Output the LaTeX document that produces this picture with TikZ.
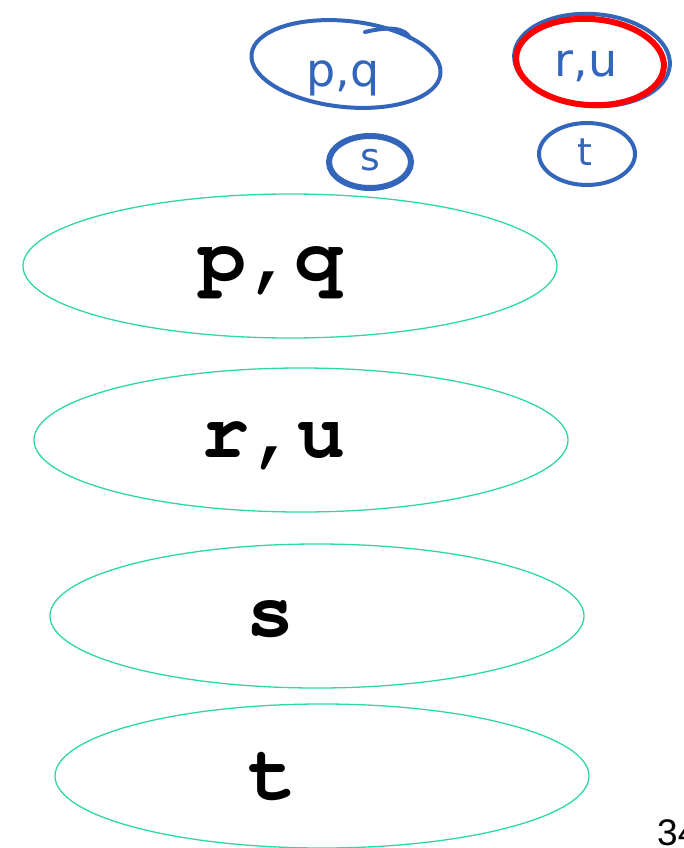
\documentclass[tikz,border=0pt]{standalone}
\usepackage{fontspec}
\setmainfont{Liberation Sans}
\newfontfamily\handfont{DejaVu Sans}
\newcommand{\courbold}{\fontencoding{T1}\fontfamily{pcr}\fontseries{b}\fontshape{n}\selectfont}
\definecolor{teal1}{HTML}{2ED8A4}
\definecolor{inkblue}{HTML}{3366BB}
\definecolor{inkred}{HTML}{FF0000}
\usetikzlibrary{shapes.geometric}
\tikzset{
  setbox/.style={draw=teal1, line width=1.3pt, ellipse, minimum width=534, minimum height=144, inner sep=0pt},
  settext/.style={font=\courbold\fontsize{80}{80}\selectfont},
  ink/.style={draw=inkblue, line width=4pt, line cap=round},
  inktext/.style={text=inkblue, font=\handfont\fontsize{46}{46}\selectfont}
}
\begin{document}
\begin{tikzpicture}[x=1pt,y=-1pt]
\useasboundingbox (0,0) rectangle (683,848);
\clip (0,0) rectangle (683,848);
\fill[white] (0,0) rectangle (683,848);
% main sets
\node[setbox] (e1) at (290,266) {};
\node[setbox] (e2) at (301,440) {};
\node[setbox] (e3) at (317,616) {};
\node[setbox] (e4) at (322,776) {};
\node[settext] (t1) at (270,270) {p,q};
\node[settext] (t2) at (273,444) {r,u};
\node[settext] (t3) at (270,619) {s};
\node[settext] (t4) at (272,778) {t};
% handwritten annotations
\draw[ink, rotate around={-6:(346,64)}] (346,64) ellipse [x radius=95, y radius=43];
\draw[ink] (365,32) .. controls (390,26) and (405,28) .. (410,38);
\node[inktext] (h1) at (343,78) {p,q};
\draw[ink, line width=6pt] (370,162) ellipse [x radius=41, y radius=26];
\node[inktext, font=\handfont\fontsize{38}{38}\selectfont] (h2) at (370,160) {s};
\draw[ink, rotate around={-4:(592,60)}] (592,60) ellipse [x radius=78, y radius=46];
\draw[draw=inkred, line width=6pt, rotate around={-4:(590,62)}] (590,62) ellipse [x radius=74, y radius=43];
\node[inktext] (h3) at (586,66) {r,u};
\draw[ink] (587,154) ellipse [x radius=48, y radius=31];
\node[inktext, font=\handfont\fontsize{38}{38}\selectfont] (h4) at (585,152) {t};
% page number
\node[anchor=base west, inner sep=0pt, font=\fontsize{37}{37}\selectfont] (pg) at (657,845) {34};
\end{tikzpicture}
\end{document}
